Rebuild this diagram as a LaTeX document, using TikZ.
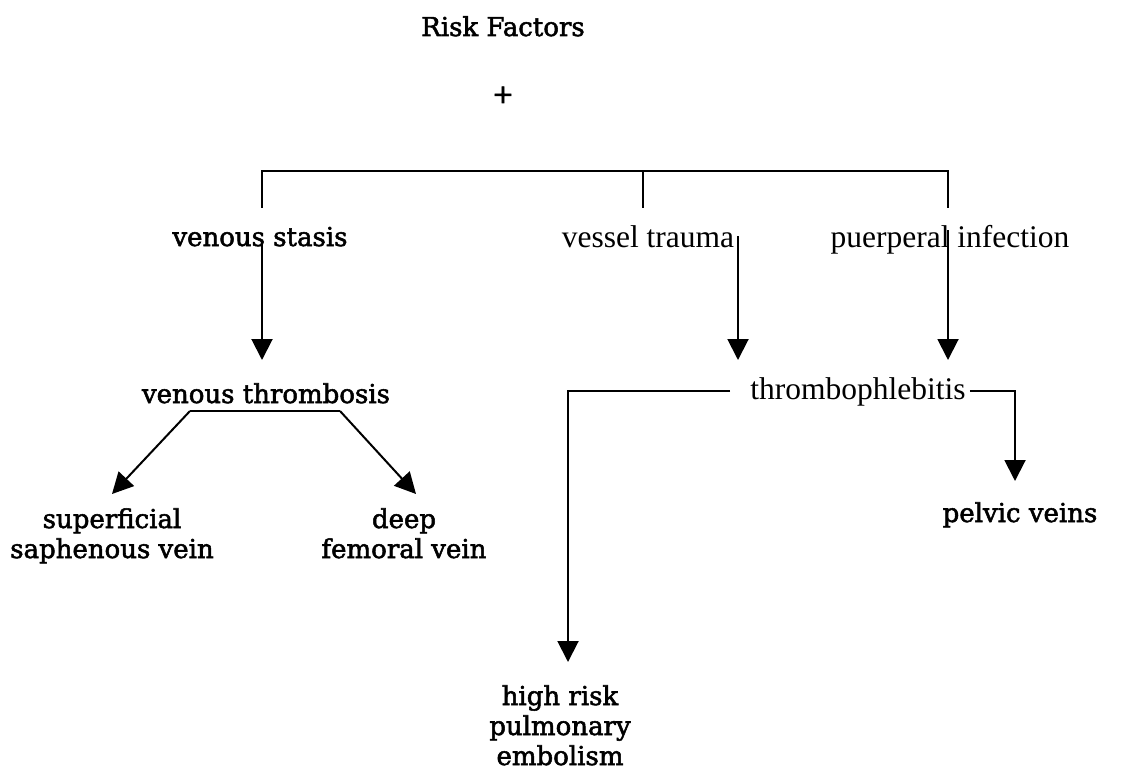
\documentclass[tikz,border=0pt]{standalone}
\usepackage{fontspec}
\setmainfont{DejaVu Serif}
\newfontfamily\bookfont{DejaVu Serif}[FakeBold=2]
\newfontfamily\palfont{Liberation Serif}
\usetikzlibrary{arrows.meta}
\begin{document}
\begin{tikzpicture}[x=1pt,y=-1pt,
  lbl/.style={font=\bookfont\fontsize{26}{30}\selectfont, inner sep=0pt, align=center, anchor=base},
  lblb/.style={font=\palfont\fontsize{31.5}{36}\selectfont, inner sep=0pt, anchor=base},
  link/.style={line width=1.6pt},
  arr/.style={line width=2pt, -{Triangle[length=21pt,width=21pt]}}]
\useasboundingbox (0,0) rectangle (1148,778);

% labels (multi-line labels are placed by the baseline of their last line)
\node[lbl] (risk) at (503,36) {Risk Factors};
\node[lbl] (plus) at (503,103) {+};
\node[lbl] (stasis) at (260,246) {venous stasis};
\node[lblb] (trauma) at (648,247) {vessel trauma};
\node[lblb] (puerp) at (950,247) {puerperal infection};
\node[lbl] (vthromb) at (266,403) {venous thrombosis};
\node[lbl] (superf) at (112,558) {superficial\\saphenous vein};
\node[lbl] (deep) at (404,558) {deep\\femoral vein};
\node[lblb] (tphleb) at (858,399) {thrombophlebitis};
\node[lbl] (pelvic) at (1020,522) {pelvic veins};
\node[lbl] (pe) at (560,765) {high risk\\pulmonary\\embolism};

% junction points of the top bracket
\coordinate (barL) at (262,171);
\coordinate (barM) at (643,171);
\coordinate (barR) at (948,171);
\coordinate (tickL) at (262,208);
\coordinate (tickM) at (643,208);
\coordinate (tickR) at (948,208);
\draw[link] (tickL) -- (barL) -- (barR) -- (tickR);
\draw[link] (barM) -- (tickM);

% causes lead to the two conditions
\coordinate (sStart) at (262,243);
\coordinate (sTip) at (262,360);
\coordinate (tStart) at (738,236);
\coordinate (tTip) at (738,360);
\coordinate (pStart) at (948,230);
\coordinate (pTip) at (948,360);
\draw[arr] (sStart) -- (sTip);
\draw[arr] (tStart) -- (tTip);
\draw[arr] (pStart) -- (pTip);

% venous thrombosis splits into superficial and deep
\coordinate (forkL) at (190,411);
\coordinate (forkR) at (340,411);
\coordinate (supTip) at (112,494);
\coordinate (deepTip) at (416,494);
\draw[link] (forkL) -- (forkR);
\draw[arr] (forkL) -- (supTip);
\draw[arr] (forkR) -- (deepTip);

% thrombophlebitis branches
\coordinate (peTip) at (568,662);
\coordinate (pelTip) at (1015,481);
\draw[arr] ([xshift=-20pt,yshift=8pt]tphleb.base west) -| (peTip);
\draw[arr] ([xshift=4pt,yshift=8pt]tphleb.base east) -| (pelTip);
\end{tikzpicture}
\end{document}
